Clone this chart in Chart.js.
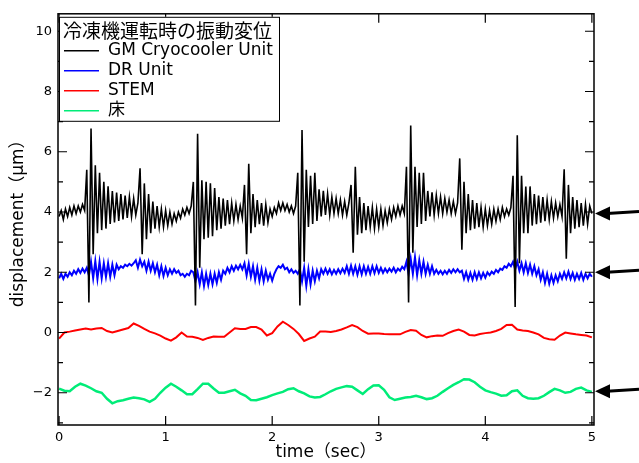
<!DOCTYPE html>
<html>
<head>
<meta charset="utf-8">
<script src="https://cdn.jsdelivr.net/npm/chart.js@4"></script>
<style>
  html, body { margin: 0; padding: 0; background: #fff; }
  canvas { display: block; }
</style>
</head>
<body>
<canvas id="vib" width="639" height="463"></canvas>
<script>
const legendTitle = '冷凍機運転時の振動変位';
const seriesNames = ['GM Cryocooler Unit', 'DR Unit', 'STEM', '床'];
const seriesColors = ['#000000', '#0000ff', '#ff0000', '#00ec78'];
const xTicks = [0, 1, 2, 3, 4, 5];
const yTicks = [-2, 0, 2, 4, 6, 8, 10];
const yMinorTicks = [-3, -1, 1, 3, 5, 7, 9];
const arrowLevels = [3.95, 2.0, -1.95];

// GM / DR channels sampled every 0.02 s, STEM / floor every 0.05 s
const fastStep = 0.02;
const slowStep = 0.05;

const gmUnit = [
  3.85, 4.05, 3.75, 4.1, 3.85, 4.15, 3.9, 4.2, 3.95, 4.2,
  4.0, 4.25, 4.05, 5.4, 1.0, 6.77, 2.6, 5.55, 3.3, 5.3,
  3.4, 5.0, 3.45, 4.85, 3.6, 4.7, 3.65, 4.65, 3.7, 4.6,
  3.75, 4.55, 3.8, 4.5, 3.85, 4.45, 3.9, 4.3, 5.45, 2.6,
  4.95, 3.1, 4.6, 3.3, 4.35, 3.45, 4.2, 3.5, 4.1, 3.5,
  4.05, 3.55, 4.0, 3.6, 3.95, 3.7, 4.0, 3.8, 4.1, 3.9,
  4.15, 3.95, 4.2, 5.0, 0.9, 6.6, 2.15, 5.05, 3.1, 5.0,
  3.15, 4.95, 3.2, 4.8, 3.4, 4.5, 3.45, 4.45, 3.55, 4.4,
  3.6, 4.3, 3.7, 4.25, 3.75, 4.2, 3.8, 4.9, 2.6, 5.6,
  3.3, 4.6, 3.5, 4.4, 3.6, 4.3, 3.55, 4.25, 3.65, 4.1,
  3.85, 4.15, 3.95, 4.3, 4.05, 4.3, 4.05, 4.25, 4.0, 4.2,
  3.95, 4.2, 5.3, 0.9, 6.72, 2.35, 5.4, 3.5, 5.2, 3.6,
  5.3, 3.7, 4.75, 3.85, 4.7, 3.9, 4.6, 3.9, 4.5, 3.95,
  4.45, 3.95, 4.4, 3.9, 4.35, 3.9, 4.3, 4.9, 2.65, 5.5,
  3.25, 4.5, 3.3, 4.3, 3.4, 4.2, 3.5, 4.15, 3.45, 4.1,
  3.5, 4.1, 3.55, 4.05, 3.65, 4.1, 3.75, 4.15, 3.85, 4.2,
  3.9, 4.2, 3.95, 5.5, 1.0, 6.87, 2.65, 5.5, 3.5, 5.3,
  3.6, 5.3, 3.7, 4.7, 3.85, 4.65, 3.9, 4.55, 3.95, 4.5,
  3.95, 4.45, 4.0, 4.4, 3.95, 4.35, 3.95, 4.3, 5.78, 2.75,
  5.0, 3.3, 4.6, 3.4, 4.4, 3.45, 4.3, 3.5, 4.15, 3.5,
  4.1, 3.55, 4.05, 3.6, 4.1, 3.7, 4.1, 3.75, 4.15, 3.85,
  4.1, 3.9, 4.15, 5.2, 0.85, 6.55, 2.3, 5.2, 3.3, 4.85,
  3.3, 4.85, 3.55, 4.6, 3.6, 4.55, 3.65, 4.5, 3.7, 4.4,
  3.75, 4.35, 3.8, 4.3, 3.85, 4.25, 3.85, 5.42, 2.45, 4.9,
  3.3, 4.5, 3.45, 4.4, 3.5, 4.3, 3.55, 4.25, 3.6, 4.2,
  3.95
];

const drUnit = [
  1.8, 1.95, 1.78, 1.95, 1.85, 2.0, 1.9, 2.05, 1.95, 2.1, 1.98, 2.12, 2.0,
  2.15, 1.9, 2.35, 1.8, 2.37, 1.78, 2.35, 1.8, 2.3, 1.85, 2.3, 1.85, 2.25, 1.9, 2.25,
  2.1, 2.2, 2.15, 2.25, 2.2, 2.28, 2.22, 2.3,
  2.4, 2.15, 2.42, 2.2, 2.35, 2.05, 2.35, 2.05, 2.3, 2.0, 2.25, 1.9, 2.2, 1.88, 2.15, 1.9,
  2.1, 1.95, 2.1, 1.98, 2.05, 1.9, 1.95, 1.85, 1.95, 1.9, 2.05,
  2.0, 1.7, 2.0, 1.6, 2.0, 1.55, 1.95, 1.58, 1.95, 1.6, 1.95, 1.65, 2.0, 1.75, 2.05,
  1.95, 2.15, 2.0, 2.2, 2.05, 2.22, 2.1, 2.25, 2.1,
  2.3, 1.9, 2.28, 1.85, 2.2, 1.75, 2.15, 1.72, 2.1, 1.7, 2.05, 1.75, 1.95, 1.72, 1.95,
  2.1, 2.2, 2.15, 2.25, 2.1, 2.15, 2.0, 2.1, 1.98, 2.05, 1.95,
  2.1, 1.7, 2.15, 1.55, 2.1, 1.6, 2.05, 1.7, 2.05, 1.8,
  2.1, 1.95, 2.12, 1.95, 2.1, 1.93, 2.08, 1.95, 2.1, 1.97, 2.12, 1.98,
  2.2, 1.95, 2.22, 1.95, 2.2, 1.92, 2.2, 1.93, 2.2, 1.95, 2.18, 1.95, 2.2, 1.97, 2.2, 1.98, 2.15,
  1.98, 2.12, 2.0, 2.12, 2.02, 2.15, 2.0, 2.12, 2.05, 2.18, 2.1,
  2.35, 1.95, 2.45, 1.95, 2.5, 1.9, 2.4, 1.95, 2.35, 1.95, 2.25, 1.95, 2.2,
  1.95, 2.08, 1.95, 2.05, 1.93, 2.05, 1.95, 2.08, 1.98, 2.1, 2.0, 2.1, 2.0,
  2.05, 1.78, 2.0, 1.75, 1.98, 1.75, 2.0, 1.78, 2.0, 1.8, 1.98, 1.82, 2.0,
  1.9, 2.02, 1.95, 2.08, 2.0, 2.12, 2.08, 2.2, 2.15, 2.28, 2.2,
  2.35, 2.1, 2.35, 2.05, 2.3, 2.0, 2.3, 1.98, 2.25, 1.95, 2.2, 1.9, 2.1,
  1.75, 2.0, 1.65, 1.95, 1.62, 1.9, 1.65, 1.9, 1.7, 1.95,
  1.78, 2.0, 1.8, 2.02, 1.78, 1.98, 1.75, 1.95, 1.78, 1.98, 1.75, 1.95, 1.8, 1.95, 1.85
];

const stem = [
  -0.2, 0.0, 0.03, 0.07, 0.1, 0.13, 0.1, 0.13, 0.15, 0.05,
  0.0, 0.05, 0.1, 0.15, 0.3, 0.22, 0.12, 0.03, -0.03, -0.1,
  -0.2, -0.27, -0.16, 0.0, -0.13, -0.14, -0.18, -0.25, -0.18, -0.13,
  -0.14, -0.14, 0.0, 0.14, 0.12, 0.12, 0.18, 0.18, 0.1, -0.1,
  -0.02, 0.2, 0.36, 0.25, 0.12, -0.05, -0.28, -0.2, -0.14, 0.03,
  0.03, 0.02, 0.05, 0.1, 0.17, 0.25, 0.18, 0.05, -0.04, -0.03,
  -0.03, -0.05, -0.06, -0.06, -0.06, 0.02, 0.08, 0.06, -0.08, -0.16,
  -0.12, -0.1, -0.11, -0.02, 0.05, 0.1, 0.03, -0.08, -0.1, -0.05,
  -0.02, 0.0, 0.05, 0.12, 0.25, 0.26, 0.1, 0.07, 0.05, 0.0,
  -0.06, -0.18, -0.22, -0.24, -0.1, 0.0, -0.03, -0.06, -0.08, -0.1,
  -0.16
];

const floor = [
  -1.86, -1.93, -1.95, -1.8, -1.7, -1.76, -1.85, -1.95, -2.0, -2.2,
  -2.35, -2.28, -2.25, -2.2, -2.16, -2.18, -2.22, -2.3, -2.2, -2.0,
  -1.83, -1.7, -1.8, -1.92, -2.05, -2.05, -1.88, -1.7, -1.7, -1.86,
  -2.0, -2.0, -1.95, -1.9, -2.02, -2.1, -2.24, -2.25, -2.2, -2.15,
  -2.08, -2.02, -1.97, -1.88, -1.85, -1.95, -2.02, -2.12, -2.16, -2.14,
  -2.05, -1.95, -1.87, -1.82, -1.78, -1.8, -1.92, -2.04, -1.88, -1.76,
  -1.75, -1.9, -2.15, -2.24, -2.2, -2.16, -2.14, -2.1, -2.15, -2.21,
  -2.18, -2.1, -1.97, -1.85, -1.74, -1.65, -1.55, -1.56, -1.65, -1.8,
  -1.92, -1.98, -2.03, -2.1, -2.08, -1.95, -1.92, -2.1, -2.18, -2.2,
  -2.18, -2.1, -1.98, -1.87, -1.92, -2.0, -1.97, -1.87, -1.83, -1.92,
  -1.97
];

function toPoints(values, step) {
  return values.map((v, i) => ({ x: +(i * step).toFixed(3), y: v }));
}

// box frame with inward ticks on all four sides
const framePlugin = {
  id: 'frame',
  afterDatasetsDraw(chart) {
    const { ctx, chartArea: a, scales: { x, y } } = chart;
    ctx.save();
    ctx.strokeStyle = '#000';
    ctx.lineWidth = 1.5;
    ctx.strokeRect(a.left, a.top, a.right - a.left, a.bottom - a.top);
    ctx.lineWidth = 1.2;
    ctx.beginPath();
    xTicks.forEach(v => {
      const px = x.getPixelForValue(v);
      ctx.moveTo(px, a.bottom); ctx.lineTo(px, a.bottom - 9);
      ctx.moveTo(px, a.top); ctx.lineTo(px, a.top + 9);
    });
    yTicks.forEach(v => {
      const py = y.getPixelForValue(v);
      ctx.moveTo(a.left, py); ctx.lineTo(a.left + 9, py);
      ctx.moveTo(a.right, py); ctx.lineTo(a.right - 9, py);
    });
    yMinorTicks.forEach(v => {
      const py = y.getPixelForValue(v);
      ctx.moveTo(a.left, py); ctx.lineTo(a.left + 5, py);
      ctx.moveTo(a.right, py); ctx.lineTo(a.right - 5, py);
    });
    ctx.stroke();
    ctx.restore();
  }
};

// legend in a bordered box at the top-left corner of the plot
const boxLegend = {
  id: 'boxLegend',
  afterDatasetsDraw(chart) {
    const { ctx, chartArea: a } = chart;
    const left = a.left + 1, top = a.top + 3, w = 220, h = 104;
    ctx.save();
    ctx.fillStyle = '#fff';
    ctx.fillRect(left, top, w, h);
    ctx.strokeStyle = '#000';
    ctx.lineWidth = 1;
    ctx.strokeRect(left + 0.5, top + 0.5, w, h);
    ctx.fillStyle = '#000';
    ctx.textBaseline = 'middle';
    ctx.font = '19px "Noto Sans CJK JP", sans-serif';
    ctx.fillText(legendTitle, left + 4, top + 14);
    ctx.font = '17px "DejaVu Sans", "Noto Sans CJK JP", sans-serif';
    chart.data.datasets.forEach((ds, i) => {
      const yy = top + 34 + i * 20;
      ctx.strokeStyle = ds.borderColor;
      ctx.lineWidth = 1.5;
      ctx.beginPath();
      ctx.moveTo(left + 5, yy);
      ctx.lineTo(left + 40, yy);
      ctx.stroke();
      ctx.fillText(ds.label, left + 49, yy);
    });
    ctx.restore();
  }
};

// arrows outside the right edge marking the reference levels
const levelArrows = {
  id: 'levelArrows',
  afterDraw(chart) {
    const { ctx, chartArea: a, scales: { y } } = chart;
    ctx.save();
    ctx.fillStyle = '#000';
    ctx.strokeStyle = '#000';
    ctx.lineWidth = 3;
    arrowLevels.forEach(v => {
      const py = y.getPixelForValue(v);
      const tip = a.right + 1;
      ctx.beginPath();
      ctx.moveTo(tip + 12, py);
      ctx.lineTo(chart.width, py - 2);
      ctx.stroke();
      ctx.beginPath();
      ctx.moveTo(tip, py);
      ctx.lineTo(tip + 15, py - 7);
      ctx.lineTo(tip + 15, py + 7);
      ctx.closePath();
      ctx.fill();
    });
    ctx.restore();
  }
};

Chart.defaults.font.family = '"DejaVu Sans", "Noto Sans CJK JP", sans-serif';
Chart.defaults.color = '#000';

new Chart(document.getElementById('vib'), {
  type: 'line',
  data: {
    datasets: [
      { label: seriesNames[0], data: toPoints(gmUnit, fastStep), borderColor: seriesColors[0], borderWidth: 1.6 },
      { label: seriesNames[1], data: toPoints(drUnit, fastStep), borderColor: seriesColors[1], borderWidth: 2 },
      { label: seriesNames[2], data: toPoints(stem, slowStep), borderColor: seriesColors[2], borderWidth: 2 },
      { label: seriesNames[3], data: toPoints(floor, slowStep), borderColor: seriesColors[3], borderWidth: 2.5 }
    ]
  },
  options: {
    responsive: false,
    animation: false,
    devicePixelRatio: 1,
    elements: { point: { radius: 0 }, line: { tension: 0 } },
    layout: { padding: { top: 10, right: 45, left: 0, bottom: 0 } },
    plugins: { legend: { display: false }, tooltip: { enabled: false } },
    scales: {
      x: {
        type: 'linear',
        min: -0.01,
        max: 5.02,
        grid: { display: false, drawTicks: false },
        border: { display: false },
        afterBuildTicks: s => { s.ticks = xTicks.map(v => ({ value: v })); },
        afterFit: s => { s.height = 38; },
        ticks: { font: { size: 13 }, padding: 5, maxRotation: 0 },
        title: { display: true, text: 'time（sec）', font: { size: 17 }, padding: 0 }
      },
      y: {
        min: -3.07,
        max: 10.58,
        grid: { display: false, drawTicks: false },
        border: { display: false },
        afterBuildTicks: s => { s.ticks = yTicks.map(v => ({ value: v })); },
        afterFit: s => { s.width = 58; },
        ticks: {
          font: { size: 13 },
          padding: 6,
          callback: v => (v < 0 ? '−' + Math.abs(v) : String(v))
        },
        title: { display: true, text: 'displacement（μm）', font: { size: 17 }, padding: { top: 8, bottom: 0 } }
      }
    }
  },
  plugins: [framePlugin, boxLegend, levelArrows]
});
</script>
</body>
</html>
